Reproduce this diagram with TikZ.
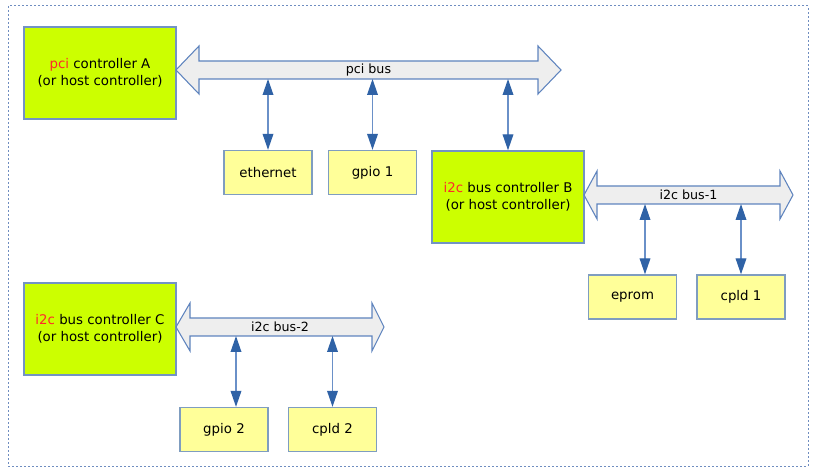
\documentclass[tikz,border=0pt]{standalone}
\usepackage{fontspec}
\setmainfont{DejaVu Sans}
\usetikzlibrary{arrows.meta,calc}
\definecolor{ctrlfill}{HTML}{CCFF00}
\definecolor{ctrlline}{HTML}{7393C4}
\definecolor{devfill}{HTML}{FFFF99}
\definecolor{devline}{HTML}{7F9DC0}
\definecolor{busfill}{HTML}{EEEEEE}
\definecolor{busline}{HTML}{5F84BE}
\definecolor{connline}{HTML}{6A90C8}
\definecolor{tipblue}{HTML}{2F62A6}
\definecolor{frameline}{HTML}{6F8DC0}
\definecolor{hot}{HTML}{FF2A2A}
\newcommand\drawbus[7]{%
  \draw[busshape] (#2,#6) -- (#3,#6-24) -- (#3,#6-9) -- (#4,#6-9) -- (#4,#6-24) -- (#5,#6)
    -- (#4,#6+24) -- (#4,#6+9) -- (#3,#6+9) -- (#3,#6+24) -- cycle;
  \node[buslabel] (#1) at ({(#2+#5)/2},#6) {#7};
}
\begin{document}
\begin{tikzpicture}[x=0.75pt,y=-0.75pt,
  ctrl/.style={draw=ctrlline,fill=ctrlfill,line width=1pt,minimum width=114pt,minimum height=69pt,
    align=center,font=\fontsize{10pt}{12.75pt}\selectfont,inner sep=0pt},
  dev/.style={draw=devline,fill=devfill,line width=1pt,minimum width=66pt,minimum height=33pt,
    font=\fontsize{10pt}{12pt}\selectfont,inner sep=0pt},
  busshape/.style={draw=busline,fill=busfill,line width=0.8pt,line join=miter},
  buslabel/.style={font=\fontsize{9.5pt}{12pt}\selectfont,inner sep=0pt},
  conn/.style={draw=connline,line width=1pt,
    {Triangle[width=8pt,length=12pt,fill=tipblue,color=tipblue]}-{Triangle[width=8pt,length=12pt,fill=tipblue,color=tipblue]}},
  frame/.style={draw=frameline,line width=0.75pt,dash pattern=on 1.5pt off 1.5pt}
]
\useasboundingbox (0,0) rectangle (816,473);
\draw[frame] (8,6) rectangle (808,466);

% controllers
\node[ctrl] (A) at (100,73) {\textcolor{hot}{pci} controller A\\(or host controller)};
\node[ctrl] (B) at (508,197) {\textcolor{hot}{i2c} bus controller B\\(or host controller)};
\node[ctrl] (C) at (100,329) {\textcolor{hot}{i2c} bus controller C\\(or host controller)};

% buses
\drawbus{pcibus}{176}{199}{538}{561}{70}{pci bus}
\drawbus{busone}{584}{597}{780}{793}{195}{i2c bus-1}
\drawbus{bustwo}{176}{190}{372}{384}{327}{i2c bus-2}

% devices
\node[dev] (eth) at (268,172.5) {ethernet};
\node[dev] (gpioone) at (372.5,172.5) {gpio 1};
\node[dev] (eprom) at (632.5,297) {eprom};
\node[dev] (cpldone) at (741,297) {cpld 1};
\node[dev] (gpiotwo) at (224,429.5) {gpio 2};
\node[dev] (cpldtwo) at (332.5,429.5) {cpld 2};

% bus taps
\coordinate (p1) at (268,79);
\coordinate (p2) at (372.5,79);
\coordinate (p3) at (508,79);
\coordinate (q1) at (645,204);
\coordinate (q2) at (741,204);
\coordinate (r1) at (236,336);
\coordinate (r2) at (332.5,336);

\draw[conn] (p1) -- (eth.north);
\draw[conn] (p2) -- (gpioone.north);
\draw[conn] (p3) -- (B.north);
\draw[conn] (q1) -- (q1 |- eprom.north);
\draw[conn] (q2) -- (cpldone.north);
\draw[conn] (r1) -- (r1 |- gpiotwo.north);
\draw[conn] (r2) -- (cpldtwo.north);
\end{tikzpicture}
\end{document}
